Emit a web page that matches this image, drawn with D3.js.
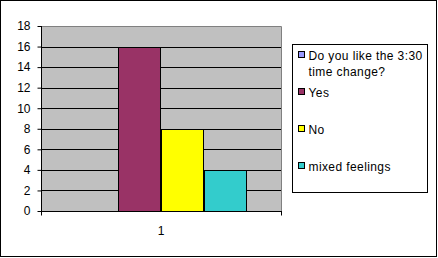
<!DOCTYPE html>
<html>
<head>
<meta charset="utf-8">
<script src="https://cdn.jsdelivr.net/npm/d3@7"></script>
<style>
  body { margin: 0; background: #fff; }
  svg { display: block; font-family: Arial, "Liberation Sans", sans-serif; font-size: 12px; }
</style>
</head>
<body>
<svg id="svg" width="438" height="258"></svg>
<script>
// chart values
var categories = ["1"];
var seriesNames = ["Do you like the 3:30 time change?", "Yes", "No", "mixed feelings"];
var seriesValues = [0, 16, 8, 4];
var seriesColors = ["#9999ff", "#993366", "#ffff00", "#33cccc"];
var yTicks = [0, 2, 4, 6, 8, 10, 12, 14, 16, 18];

var svg = d3.select("#svg");

// outer frame
svg.append("rect")
    .attr("x", 0.5).attr("y", 0.5)
    .attr("width", 436).attr("height", 256)
    .attr("fill", "#fff").attr("stroke", "#000");

var plot = {left: 41, top: 26, right: 281, bottom: 211};

var yScale = d3.scaleLinear()
    .domain([0, 18])
    .range([plot.bottom, plot.top]);

var xScale = d3.scaleBand()
    .domain(categories)
    .range([plot.left, plot.right]);

var xSeries = d3.scaleBand()
    .domain(seriesNames)
    .range([0, xScale.bandwidth()])
    .paddingInner(0)
    .paddingOuter(0.76);

// plot background
svg.append("rect")
    .attr("x", plot.left).attr("y", plot.top)
    .attr("width", plot.right - plot.left)
    .attr("height", plot.bottom - plot.top)
    .attr("fill", "#c0c0c0");

// gridlines
svg.append("g")
    .selectAll("line")
    .data(yTicks.filter(function (d) { return d > 0 && d < 18; }))
    .enter()
    .append("line")
    .attr("x1", plot.left).attr("x2", plot.right)
    .attr("y1", function (d) { return Math.round(yScale(d)) + 0.5; })
    .attr("y2", function (d) { return Math.round(yScale(d)) + 0.5; })
    .attr("stroke", "#000");

// top and right border of plot area (gray)
svg.append("path")
    .attr("d", "M" + plot.left + "," + (plot.top + 0.5) + "H" + (plot.right + 0.5) + "V" + plot.bottom)
    .attr("fill", "none")
    .attr("stroke", "#808080");

// bars
var barGrp = svg.append("g");
categories.forEach(function (c) {
    barGrp.selectAll("rect.bar-" + c)
        .data(seriesValues)
        .enter()
        .append("rect")
        .attr("x", function (d, i) { return Math.round(xScale(c) + xSeries(seriesNames[i])) + 0.5; })
        .attr("y", function (d) { return Math.round(yScale(d)) + 0.5; })
        .attr("width", Math.round(xSeries.bandwidth()) - 1)
        .attr("height", function (d) { return Math.round(yScale(0)) - Math.round(yScale(d)); })
        .attr("fill", function (d, i) { return seriesColors[i]; })
        .attr("stroke", "#000");
});

// y axis
var yAxis = svg.append("g")
    .attr("transform", "translate(" + (plot.left + 0.5) + ",0)")
    .call(d3.axisLeft(yScale).tickValues(yTicks).tickSize(4).tickPadding(7));
yAxis.selectAll("line, path").attr("stroke", "#000");
yAxis.select(".domain").attr("d", "M0," + plot.top + "V" + (plot.bottom + 0.5));
yAxis.selectAll("text")
    .attr("fill", "#000")
    .style("font-size", "12px")
    .style("font-family", "Arial, 'Liberation Sans', sans-serif");

// x axis
var xAxis = svg.append("g")
    .attr("transform", "translate(0," + (plot.bottom + 0.5) + ")");
xAxis.append("line")
    .attr("x1", plot.left).attr("x2", plot.right + 1)
    .attr("stroke", "#000");
xAxis.selectAll("line.tick")
    .data([xScale.range()[0], xScale.range()[1]])
    .enter()
    .append("line")
    .attr("class", "tick")
    .attr("x1", function (d) { return d + 0.5; })
    .attr("x2", function (d) { return d + 0.5; })
    .attr("y1", 0).attr("y2", 4)
    .attr("stroke", "#000");
xAxis.selectAll("text")
    .data(categories)
    .enter()
    .append("text")
    .attr("x", function (d) { return xScale(d) + xScale.bandwidth() / 2; })
    .attr("y", 23)
    .attr("text-anchor", "middle")
    .text(function (d) { return d; });

// legend
var legend = svg.append("g");
legend.append("rect")
    .attr("x", 292.5).attr("y", 44.5)
    .attr("width", 135).attr("height", 148)
    .attr("fill", "#fff").attr("stroke", "#000");

var legendBaselines = [60, 97, 134, 171];
var legendLines = [["Do you like the 3:30", "time change?"], ["Yes"], ["No"], ["mixed feelings"]];

var items = legend.selectAll("g.item")
    .data(seriesNames)
    .enter()
    .append("g")
    .attr("class", "item");

items.append("rect")
    .attr("x", 298.5)
    .attr("y", function (d, i) { return legendBaselines[i] - 8.5; })
    .attr("width", 6).attr("height", 6)
    .attr("fill", function (d, i) { return seriesColors[i]; })
    .attr("stroke", "#000");

items.append("text")
    .attr("x", 308.5)
    .attr("y", function (d, i) { return legendBaselines[i]; })
    .style("letter-spacing", "0.4px")
    .selectAll("tspan")
    .data(function (d, i) { return legendLines[i]; })
    .enter()
    .append("tspan")
    .attr("x", 308.5)
    .attr("dy", function (d, j) { return j === 0 ? 0 : 16; })
    .text(function (d) { return d; });
</script>
</body>
</html>
